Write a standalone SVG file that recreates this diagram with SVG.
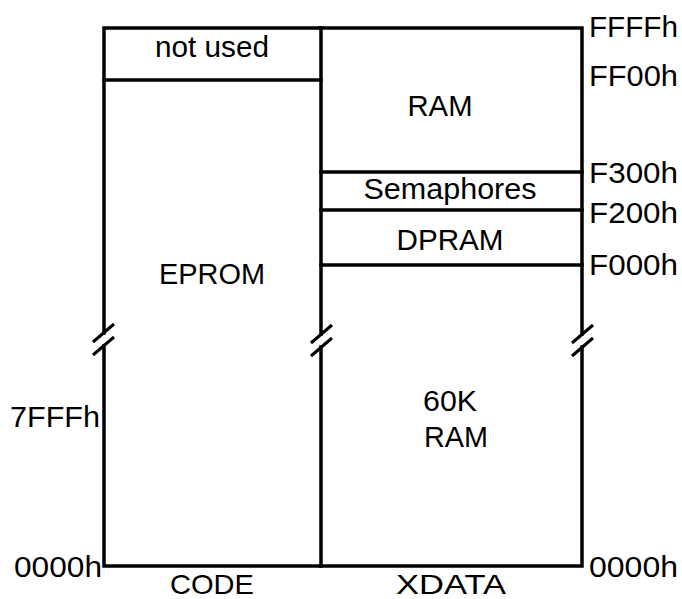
<svg xmlns="http://www.w3.org/2000/svg" width="682" height="599" viewBox="0 0 682 599">
<style>
.ln{stroke:#000;stroke-width:3.5;fill:none;stroke-linecap:square}
.sl{stroke:#000;stroke-width:3;fill:none;stroke-linecap:butt}
text{font-family:"Liberation Sans",Arial,sans-serif;font-size:29px;fill:#000}
.c{text-anchor:middle}
.e{text-anchor:end}
.b{font-size:28px}
</style>
<rect width="682" height="599" fill="#fff"/>
<g id="code-column">
<path class="ln" d="M104,333 V28 H320"/>
<path class="ln" d="M104,346 V566 H320"/>
<path class="ln" d="M104,80 H321"/>
<path class="sl" d="M93,342 L114,324 M93,355 L114,337"/>
<text class="c" x="212" y="57" textLength="114" lengthAdjust="spacingAndGlyphs">not used</text>
<text class="c" x="212" y="284" textLength="106" lengthAdjust="spacingAndGlyphs">EPROM</text>
<text class="e" x="100" y="427" textLength="90" lengthAdjust="spacingAndGlyphs">7FFFh</text>
<text class="e" x="102" y="577" textLength="88" lengthAdjust="spacingAndGlyphs">0000h</text>
<text class="c b" x="212" y="594" textLength="84" lengthAdjust="spacingAndGlyphs">CODE</text>
</g>
<g id="xdata-column">
<path class="ln" d="M321,28 V334"/>
<path class="ln" d="M321,347 V566"/>
<path class="ln" d="M320,28 H582 V334"/>
<path class="ln" d="M582,347 V566 H321"/>
<path class="ln" d="M321,172 H582"/>
<path class="ln" d="M321,210 H582"/>
<path class="ln" d="M321,265 H582"/>
<path class="sl" d="M311,343 L332,325 M311,356 L332,338"/>
<path class="sl" d="M572,343 L593,325 M572,356 L593,338"/>
<text class="c" x="440" y="116" textLength="65" lengthAdjust="spacingAndGlyphs">RAM</text>
<text class="c" x="450" y="199" textLength="173" lengthAdjust="spacingAndGlyphs">Semaphores</text>
<text class="c" x="450" y="250" textLength="107" lengthAdjust="spacingAndGlyphs">DPRAM</text>
<text x="423" y="411" textLength="54" lengthAdjust="spacingAndGlyphs">60K</text>
<text x="424" y="447" textLength="64" lengthAdjust="spacingAndGlyphs">RAM</text>
<text class="c b" x="451" y="594" textLength="110" lengthAdjust="spacingAndGlyphs">XDATA</text>
</g>
<g id="address-labels">
<text x="589" y="37" textLength="89" lengthAdjust="spacingAndGlyphs">FFFFh</text>
<text x="589" y="86" textLength="89" lengthAdjust="spacingAndGlyphs">FF00h</text>
<text x="589" y="183" textLength="89" lengthAdjust="spacingAndGlyphs">F300h</text>
<text x="589" y="223" textLength="89" lengthAdjust="spacingAndGlyphs">F200h</text>
<text x="589" y="275" textLength="89" lengthAdjust="spacingAndGlyphs">F000h</text>
<text x="589" y="577" textLength="89" lengthAdjust="spacingAndGlyphs">0000h</text>
</g>
</svg>
